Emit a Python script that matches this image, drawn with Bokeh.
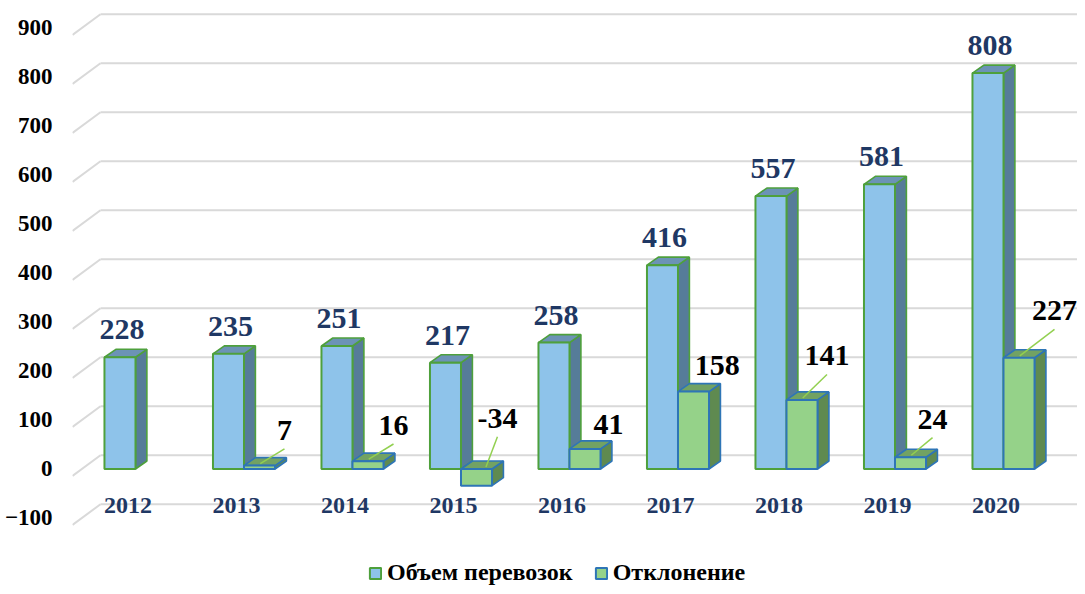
from bokeh.plotting import figure
from bokeh.models import Range1d, FixedTicker, Legend, LegendItem
from bokeh.embed import file_html
from bokeh.resources import INLINE
from bokeh.core.properties import value

# ---------------- data ----------------
years = ["2012", "2013", "2014", "2015", "2016", "2017", "2018", "2019", "2020"]
volume = [228, 235, 251, 217, 258, 416, 557, 581, 808]
deviation = [None, 7, 16, -34, 41, 158, 141, 24, 227]
y_ticks = [-100, 0, 100, 200, 300, 400, 500, 600, 700, 800, 900]
series_names = ["Объем перевозок", "Отклонение"]

# ---------------- layout / style ----------------
BW = 0.286      # bar width (category units)
DX = 0.105      # 3D depth, x
DY = 16.3       # 3D depth, y (value units)
WALL_DY = 28.0  # back wall offset
WALL_X = -0.3226
DIAG_DY = -14.0
# label offsets for deviation labels (layout)
dev_lbl_dx = [0, 0.373, 0.378, 0.336, 0.359, 0.362, 0.373, 0.346, 0.47]
dev_lbl_dy = [0, 72, 73, 104, 50, 53, 90, 78, 96]
dev_leader = [False, True, True, True, False, False, True, True, True]
VOL_LBL_DY = 56

FONT = "Liberation Serif"
NAVY = "#1F3864"

BLUE_FRONT, BLUE_SIDE, BLUE_TOP, BLUE_EDGE = "#8EC3EA", "#567C99", "#6C93B6", "#4EA03C"
GREEN_FRONT, GREEN_SIDE, GREEN_TOP, GREEN_EDGE = "#95D289", "#5F8A50", "#72A263", "#2E75B6"

x_start, x_end = -0.5806, 8.682
y_start, y_end = -239.8, 956.1

p = figure(width=1077, height=586, output_backend="svg", toolbar_location=None,
           x_range=Range1d(x_start, x_end), y_range=Range1d(y_start, y_end),
           min_border_left=72, min_border_right=0, min_border_top=0, min_border_bottom=0)
p.outline_line_color = None
p.xgrid.visible = False
p.ygrid.visible = False
p.xaxis.visible = False
p.background_fill_color = "white"

ya = p.yaxis[0]
ya.ticker = FixedTicker(ticks=y_ticks)
ya.axis_line_color = None
ya.major_tick_line_color = None
ya.minor_tick_line_color = None
ya.major_label_standoff = 14
ya.major_label_text_font = FONT
ya.major_label_text_font_style = "bold"
ya.major_label_text_font_size = "23px"
ya.major_label_text_color = "#000000"

# back wall gridlines + side wall diagonals
gx0, gx1, gy0, gy1 = [], [], [], []
for t in y_ticks:
    gx0 += [x_start, WALL_X]
    gx1 += [WALL_X, x_end]
    gy0 += [t + DIAG_DY, t + WALL_DY]
    gy1 += [t + WALL_DY, t + WALL_DY]
p.segment(x0=gx0, y0=gy0, x1=gx1, y1=gy1, line_color="#D9D9D9", line_width=2)


def draw_bars(lefts, bottoms, tops, front, side, top, edge):
    sx, sy, tx, ty = [], [], [], []
    for x0, b, t in zip(lefts, bottoms, tops):
        x1 = x0 + BW
        sx.append([x1, x1 + DX, x1 + DX, x1])
        sy.append([b, b + DY, t + DY, t])
        tx.append([x0, x0 + DX, x1 + DX, x1])
        ty.append([t, t + DY, t + DY, t])
    p.patches(xs=sx, ys=sy, fill_color=side, line_color=edge, line_width=1.6)
    p.patches(xs=tx, ys=ty, fill_color=top, line_color=edge, line_width=1.6)
    r = p.quad(left=lefts, right=[l + BW for l in lefts], bottom=bottoms, top=tops,
               fill_color=front, line_color=edge, line_width=2)
    return r


idx = list(range(len(years)))
r_blue = draw_bars([i - BW for i in idx], [0] * len(idx), volume,
                   BLUE_FRONT, BLUE_SIDE, BLUE_TOP, BLUE_EDGE)

gi = [i for i in idx if deviation[i] is not None]
gv = [deviation[i] for i in gi]
r_green = draw_bars([float(i) for i in gi], [min(v, 0) for v in gv], [max(v, 0) for v in gv],
                    GREEN_FRONT, GREEN_SIDE, GREEN_TOP, GREEN_EDGE)

# leader lines
lx0, ly0, lx1, ly1 = [], [], [], []
for i, v in zip(gi, gv):
    if dev_leader[i]:
        top = max(v, 0)
        lx0.append(i + dev_lbl_dx[i])
        ly0.append(top + dev_lbl_dy[i] - 38)
        lx1.append(i + 0.15 + (0.08 if v < 0 else 0))
        ly1.append(top + 4)
p.segment(x0=lx0, y0=ly0, x1=lx1, y1=ly1, line_color="#92D050", line_width=1.5)

# value labels (volume)
p.text(x=[i - 0.125 for i in idx], y=[v + VOL_LBL_DY for v in volume], text=[str(v) for v in volume],
       text_font=value(FONT), text_font_style="bold", text_font_size="30px",
       text_color=NAVY, text_align="center", text_baseline="alphabetic")

# value labels (deviation)
p.text(x=[i + dev_lbl_dx[i] for i in gi], y=[max(v, 0) + dev_lbl_dy[i] for i, v in zip(gi, gv)],
       text=[str(v) for v in gv],
       text_font=value(FONT), text_font_style="bold", text_font_size="30px",
       text_color="#000000", text_align="center", text_baseline="alphabetic")

# category labels
p.text(x=[i - 0.069 for i in idx], y=[-74] * len(idx), text=years,
       text_font=value(FONT), text_font_style="bold", text_font_size="24px",
       text_color=NAVY, text_align="center", text_baseline="middle")

legend = Legend(items=[LegendItem(label=series_names[0], renderers=[r_blue]),
                       LegendItem(label=series_names[1], renderers=[r_green])],
                orientation="horizontal", location=(296, 0))
legend.label_text_font = FONT
legend.label_text_font_style = "bold"
legend.label_text_font_size = "24px"
legend.label_text_color = "#000000"
legend.glyph_width = 14
legend.glyph_height = 14
legend.label_height = 14
legend.label_standoff = 5
legend.spacing = 21
legend.padding = 0
legend.margin = 0
legend.border_line_color = None
legend.background_fill_alpha = 0
p.add_layout(legend, "center")

open("out.html", "w").write(file_html(p, INLINE))
